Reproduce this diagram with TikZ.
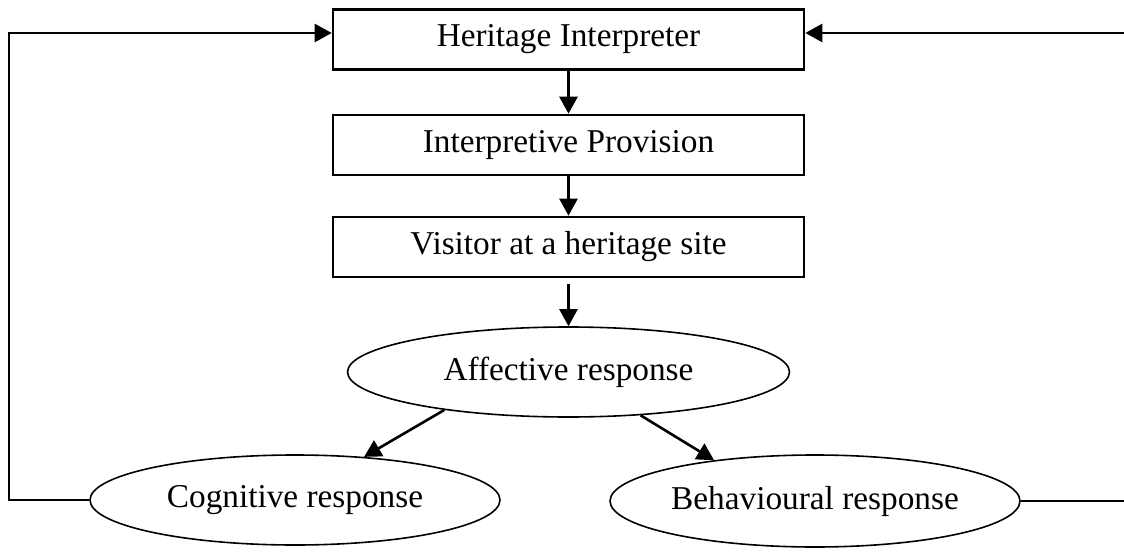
\documentclass[tikz,border=0pt]{standalone}
\usepackage{fontspec}
\setmainfont{Liberation Serif}
\usetikzlibrary{shapes.geometric,arrows.meta}
\begin{document}
\begin{tikzpicture}[x=1pt,y=-1pt,
  txt/.style={font=\fontsize{33.3}{40}\selectfont},
  box/.style={draw,line width=2.6pt,minimum width=471pt,minimum height=60pt,inner sep=0pt,txt},
  ell/.style={draw,ellipse,line width=1.6pt,inner sep=0pt,txt},
  arr/.style={line width=2.6pt,-{Triangle[length=17pt,width=18pt]}}]
\useasboundingbox (0,0) rectangle (1124,556);
\node[box] (hi) at (568.5,39.5) {Heritage Interpreter};
\node[box] (ip) at (568.5,145) {Interpretive Provision};
\node[box] (vs) at (568.5,247) {Visitor at a heritage site};
\node[ell,minimum width=442pt,minimum height=90pt] (aff) at (568.5,372) {Affective response};
\node[ell,minimum width=410pt,minimum height=90pt] (cog) at (295,500) {Cognitive response};
\node[ell,minimum width=410pt,minimum height=92pt] (beh) at (815,501) {Behavioural response};
\draw[arr] (hi.south) -- (ip.north);
\draw[arr] (ip.south) -- (vs.north);
\draw[arr] ([yshift=-6pt]vs.south) -- (aff.north);
\draw[arr] (aff.197) -- (cog.32);
\draw[arr] (aff.329) -- (beh.158);
\coordinate (L) at (9,33);
\coordinate (R) at (1130,33);
\draw[arr] (cog.west) -| (L) -- (L -| hi.west);
\draw[arr] (beh.east) -| (R) -- (R -| hi.east);
\end{tikzpicture}
\end{document}
